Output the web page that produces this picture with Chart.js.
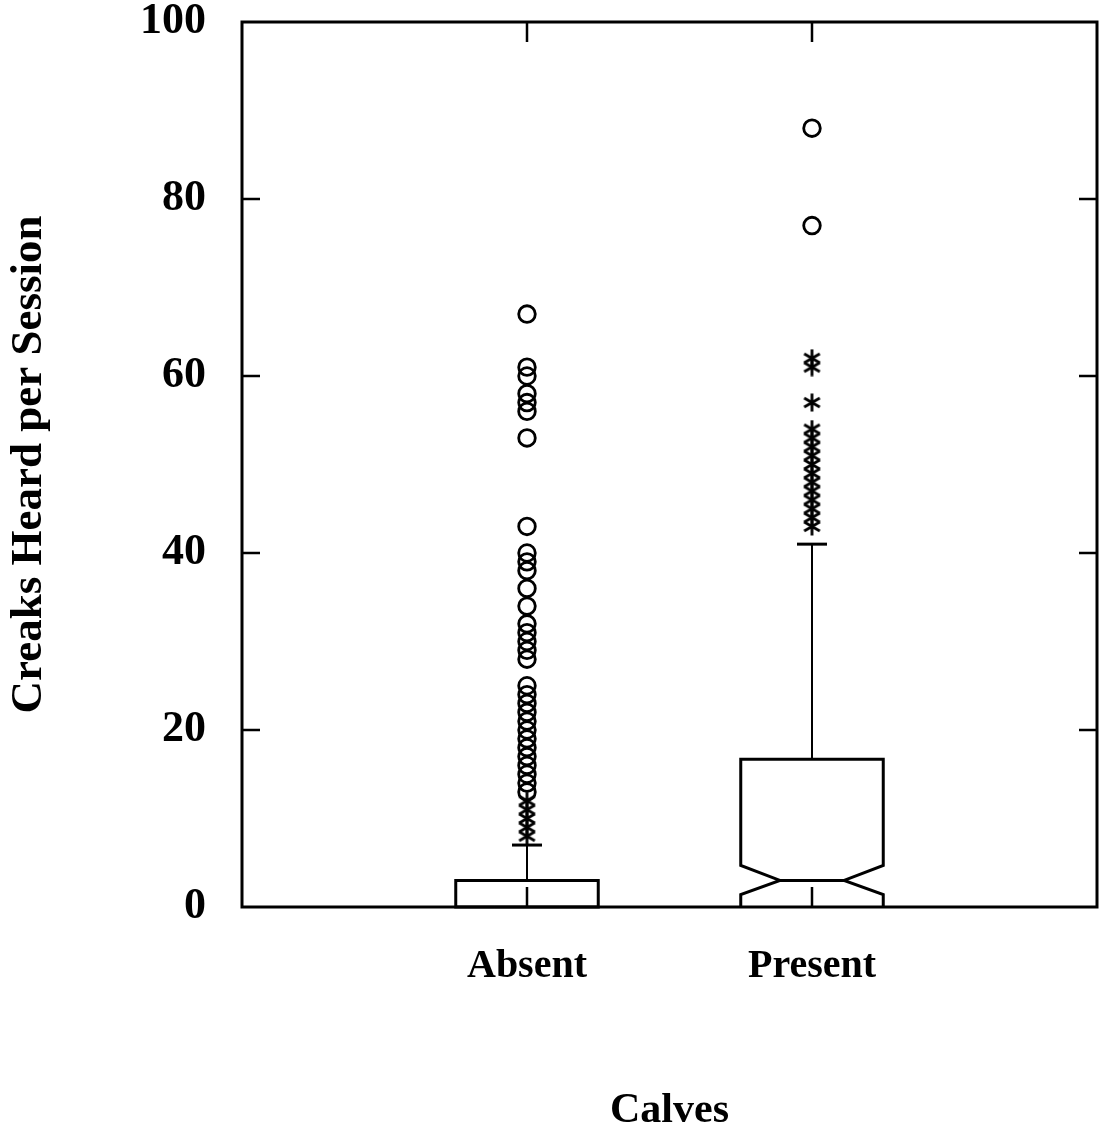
<!DOCTYPE html>
<html>
<head>
<meta charset="utf-8">
<script src="https://cdn.jsdelivr.net/npm/chart.js@4/dist/chart.umd.min.js"></script>
<style>
  html, body { margin: 0; padding: 0; background: #fff; }
  #wrap { width: 1103px; height: 1126px; }
</style>
</head>
<body>
<div id="wrap"><canvas id="chart" width="1103" height="1126"></canvas></div>
<script>
// Creaks heard per session, by calves present / absent (notched box plot)
const categories = ['Absent', 'Present'];
const q1 = [0, 0];
const median = [0, 3];
const q3 = [3, 16.7];
const whiskerHigh = [7, 41];
const notchLow = [0, 1.4];
const notchHigh = [0, 4.7];

// outliers: stars = outside inner fence, circles = far outside
const absentStars = [8, 9, 10, 11, 12];
const absentCircles = [13, 14, 15, 16, 17, 18, 19, 20, 21, 22, 23, 24, 25,
  28, 29, 30, 31, 32, 34, 36, 38, 39, 40, 43, 53, 56, 57, 58, 60, 61, 67];
const presentStars = [43, 44, 45, 46, 47, 48, 49, 50, 51, 52, 53, 54, 57, 61, 62];
const presentCircles = [77, 88];

const yTicks = [0, 20, 40, 60, 80, 100];

const FONT = '"Liberation Serif", "Times New Roman", serif';

// six-spoke asterisk used as point style
function makeAsterisk(size, lw) {
  const c = document.createElement('canvas');
  c.width = c.height = size;
  const g = c.getContext('2d');
  g.strokeStyle = '#000';
  g.lineWidth = lw;
  const r = size / 2 - 0.5;
  for (let k = 0; k < 3; k++) {
    const a = Math.PI / 2 + k * Math.PI / 3;
    g.beginPath();
    g.moveTo(size / 2 + r * Math.cos(a), size / 2 + r * Math.sin(a));
    g.lineTo(size / 2 - r * Math.cos(a), size / 2 - r * Math.sin(a));
    g.stroke();
  }
  return c;
}
const asterisk = makeAsterisk(19, 2.8);

const pts = (xv, arr) => arr.map(v => ({ x: xv, y: v }));

// boxes, whiskers and notches drawn through the chart scales
const boxPlugin = {
  id: 'boxes',
  beforeDatasetsDraw(chart) {
    const { ctx, scales: { x, y } } = chart;
    ctx.save();
    ctx.strokeStyle = '#000';
    categories.forEach((cat, i) => {
      const cx = x.getPixelForValue(i + 1);
      const half = x.getPixelForValue(i + 1.25) - cx;
      const ind = half * 0.55;
      const capHalf = 15;
      const l = cx - half, r = cx + half;
      const yq1 = y.getPixelForValue(q1[i]);
      const yq3 = y.getPixelForValue(q3[i]);
      const ymed = y.getPixelForValue(median[i]);
      const ynl = y.getPixelForValue(notchLow[i]);
      const ynh = y.getPixelForValue(notchHigh[i]);
      const ywh = y.getPixelForValue(whiskerHigh[i]);

      // whisker + cap
      ctx.lineWidth = 2;
      ctx.beginPath();
      ctx.moveTo(cx, yq3);
      ctx.lineTo(cx, ywh);
      ctx.stroke();
      ctx.lineWidth = 3;
      ctx.beginPath();
      ctx.moveTo(cx - capHalf, ywh);
      ctx.lineTo(cx + capHalf, ywh);
      ctx.stroke();

      // notched box
      ctx.lineWidth = 3;
      ctx.beginPath();
      ctx.moveTo(l, yq1);
      ctx.lineTo(l, ynl);
      ctx.lineTo(l + ind, ymed);
      ctx.lineTo(l, ynh);
      ctx.lineTo(l, yq3);
      ctx.lineTo(r, yq3);
      ctx.lineTo(r, ynh);
      ctx.lineTo(r - ind, ymed);
      ctx.lineTo(r, ynl);
      ctx.lineTo(r, yq1);
      ctx.stroke();

      // median
      ctx.beginPath();
      ctx.moveTo(l + ind, ymed);
      ctx.lineTo(r - ind, ymed);
      ctx.stroke();
    });
    ctx.restore();
  }
};

// frame with inward ticks on all four sides
const framePlugin = {
  id: 'frame',
  afterDraw(chart) {
    const { ctx, chartArea: a, scales: { x, y } } = chart;
    ctx.save();
    ctx.strokeStyle = '#000';
    ctx.lineWidth = 3;
    ctx.strokeRect(a.left, a.top, a.right - a.left, a.bottom - a.top);
    ctx.lineWidth = 2.5;
    const tl = 18;
    yTicks.slice(1, -1).forEach(v => {
      const py = y.getPixelForValue(v);
      ctx.beginPath();
      ctx.moveTo(a.left, py); ctx.lineTo(a.left + tl, py);
      ctx.moveTo(a.right, py); ctx.lineTo(a.right - tl, py);
      ctx.stroke();
    });
    categories.forEach((c, i) => {
      const px = x.getPixelForValue(i + 1);
      ctx.beginPath();
      ctx.moveTo(px, a.top); ctx.lineTo(px, a.top + 20);
      ctx.moveTo(px, a.bottom); ctx.lineTo(px, a.bottom - 20);
      ctx.stroke();
    });
    ctx.restore();
  }
};

const circleStyle = {
  pointStyle: 'circle',
  pointRadius: 8.3,
  pointBorderWidth: 2.8,
  pointBorderColor: '#000',
  pointBackgroundColor: 'rgba(0,0,0,0)'
};
const starStyle = {
  pointStyle: asterisk,
  pointRadius: 9,
  pointBorderColor: '#000'
};

new Chart(document.getElementById('chart'), {
  type: 'scatter',
  data: {
    datasets: [
      Object.assign({ label: 'Absent *', data: pts(1, absentStars) }, starStyle),
      Object.assign({ label: 'Absent o', data: pts(1, absentCircles) }, circleStyle),
      Object.assign({ label: 'Present *', data: pts(2, presentStars) }, starStyle),
      Object.assign({ label: 'Present o', data: pts(2, presentCircles) }, circleStyle)
    ]
  },
  options: {
    responsive: false,
    animation: false,
    events: [],
    layout: { autoPadding: false, padding: { top: 22, right: 6, left: 0, bottom: 0 } },
    plugins: { legend: { display: false }, tooltip: { enabled: false } },
    scales: {
      x: {
        type: 'linear',
        min: 0,
        max: categories.length + 1,
        afterBuildTicks: (s) => { s.ticks = categories.map((_, i) => ({ value: i + 1 })); },
        afterFit: (s) => { s.height = 219; s.paddingLeft = 0; s.paddingRight = 0; },
        grid: { display: false, drawTicks: false },
        border: { display: false },
        ticks: {
          padding: 40,
          color: '#000',
          font: { family: FONT, size: 40, weight: 'bold', lineHeight: 1 },
          callback: (v) => categories[v - 1] || ''
        },
        title: {
          display: true,
          text: 'Calves',
          color: '#000',
          padding: { top: 0, bottom: 0 },
          font: { family: FONT, size: 42, weight: 'bold', lineHeight: 0.7 }
        }
      },
      y: {
        min: 0,
        max: 100,
        afterBuildTicks: (s) => { s.ticks = yTicks.map(v => ({ value: v })); },
        afterFit: (s) => { s.width = 242; s.paddingTop = 0; s.paddingBottom = 0; },
        grid: { display: false, drawTicks: false },
        border: { display: false },
        ticks: {
          padding: 36,
          color: '#000',
          font: { family: FONT, size: 44, weight: 'bold', lineHeight: 1 }
        },
        title: {
          display: true,
          text: 'Creaks Heard per Session',
          color: '#000',
          padding: { top: 2, bottom: 0 },
          font: { family: FONT, size: 45, weight: 'bold', lineHeight: 1.2 }
        }
      }
    }
  },
  plugins: [boxPlugin, framePlugin]
});
</script>
</body>
</html>
